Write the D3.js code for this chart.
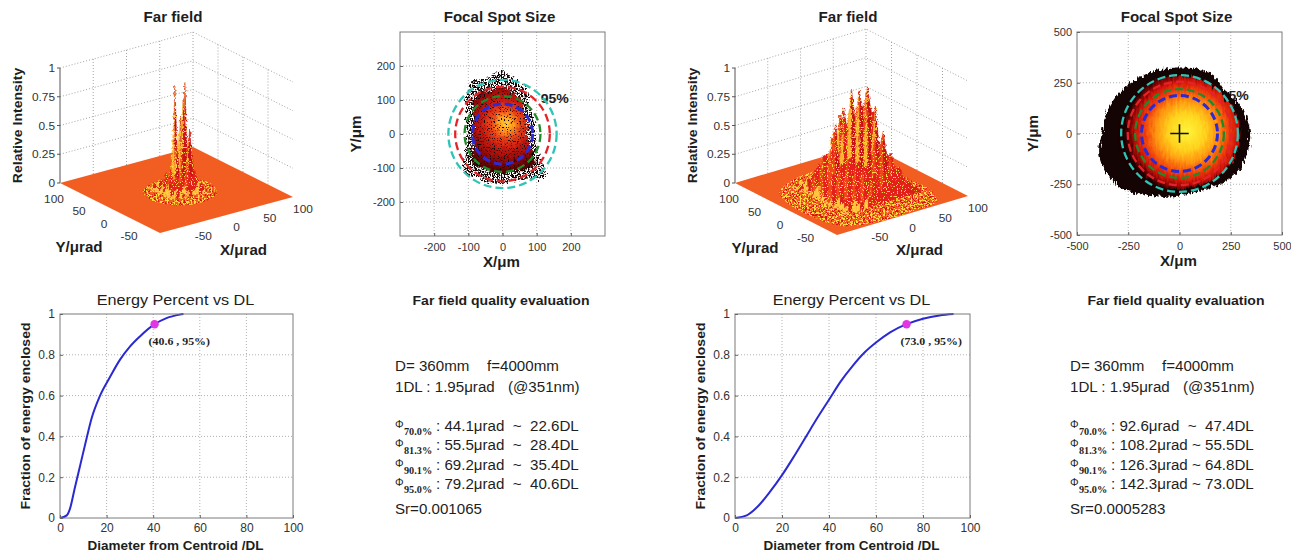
<!DOCTYPE html>
<html>
<head>
<meta charset="utf-8">
<script src="https://cdn.jsdelivr.net/npm/d3@7"></script>
<style>
  body { margin: 0; background: #fff; }
  svg { display: block; }
</style>
</head>
<body>
<svg id="fig" width="1291" height="555"></svg>
<script>
// ---------------- data ----------------
const zTicks = [0, 0.25, 0.5, 0.75, 1];
const xyTicks3d = [-50, 0, 50, 100];

// far field #1 : relative intensity on a grid (rows from back, Y high, to front)
const ff1X = [-25, -20, -15, -10, -5, 0, 5, 10, 15, 20, 25, 30];
const ff1Y = [25, 20, 15, 10, 5, 0, -5, -10, -15, -20, -25];
const ff1Z = [
  [0.00, 0.02, 0.00, 0.03, 0.05, 0.02, 0.06, 0.03, 0.05, 0.02, 0.03, 0.00],
  [0.00, 0.04, 0.03, 0.06, 0.04, 0.09, 0.05, 0.12, 0.04, 0.07, 0.03, 0.00],
  [0.00, 0.02, 0.07, 0.05, 0.12, 0.08, 0.22, 0.10, 0.18, 0.06, 0.05, 0.00],
  [0.00, 0.05, 0.04, 0.10, 0.06, 0.15, 0.88, 0.12, 0.20, 0.88, 0.08, 0.00],
  [0.00, 0.03, 0.08, 0.06, 0.18, 0.09, 0.30, 0.62, 0.14, 0.35, 0.10, 0.00],
  [0.00, 0.06, 0.05, 0.14, 0.08, 0.40, 0.12, 0.78, 0.25, 0.50, 0.07, 0.00],
  [0.00, 0.04, 0.09, 0.05, 0.16, 0.10, 0.32, 0.08, 0.45, 0.12, 0.09, 0.00],
  [0.00, 0.03, 0.06, 0.12, 0.07, 0.20, 0.09, 0.24, 0.11, 0.16, 0.05, 0.00],
  [0.00, 0.05, 0.04, 0.07, 0.11, 0.06, 0.14, 0.07, 0.12, 0.06, 0.08, 0.00],
  [0.00, 0.03, 0.05, 0.03, 0.06, 0.09, 0.05, 0.10, 0.04, 0.07, 0.03, 0.00],
  [0.00, 0.02, 0.01, 0.04, 0.02, 0.05, 0.03, 0.04, 0.06, 0.02, 0.03, 0.00]
];
// low-level speckle area on the floor (µrad)
const ff1Grass = [[-45, -5], [-35, 20], [-10, 35], [20, 35], [42, 15], [45, -15], [30, -40], [0, -50], [-30, -40]];

// far field #2
const ff2X = [-54, -48, -42, -36, -30, -24, -18, -12, -6, 0, 6, 12, 18, 24, 30, 36, 42, 48, 54, 60, 66];
const ff2Y = [48, 40, 32, 24, 16, 8, 0, -8, -16, -24, -32, -40, -48, -56];
const ff2Z = [
  [0.00, 0.02, 0.01, 0.04, 0.02, 0.08, 0.06, 0.12, 0.06, 0.16, 0.11, 0.06, 0.15, 0.07, 0.12, 0.04, 0.06, 0.03, 0.04, 0.02, 0.00],
  [0.00, 0.03, 0.02, 0.07, 0.05, 0.11, 0.16, 0.09, 0.18, 0.27, 0.10, 0.25, 0.15, 0.23, 0.08, 0.13, 0.08, 0.08, 0.02, 0.03, 0.00],
  [0.00, 0.02, 0.07, 0.04, 0.13, 0.11, 0.25, 0.26, 0.14, 0.38, 0.28, 0.42, 0.16, 0.32, 0.22, 0.08, 0.18, 0.07, 0.08, 0.03, 0.00],
  [0.00, 0.06, 0.04, 0.13, 0.13, 0.27, 0.15, 0.42, 0.38, 0.23, 0.58, 0.34, 0.50, 0.18, 0.41, 0.22, 0.21, 0.07, 0.12, 0.05, 0.00],
  [0.00, 0.04, 0.11, 0.10, 0.26, 0.15, 0.38, 0.55, 0.32, 0.68, 0.49, 0.74, 0.29, 0.56, 0.30, 0.42, 0.13, 0.21, 0.10, 0.08, 0.00],
  [0.00, 0.08, 0.09, 0.21, 0.13, 0.38, 0.31, 0.65, 0.57, 0.35, 0.84, 0.58, 0.81, 0.36, 0.56, 0.29, 0.37, 0.13, 0.17, 0.08, 0.00],
  [0.00, 0.05, 0.15, 0.09, 0.27, 0.45, 0.29, 0.65, 0.55, 0.87, 0.43, 0.82, 0.66, 0.82, 0.39, 0.53, 0.17, 0.27, 0.12, 0.13, 0.00],
  [0.00, 0.09, 0.07, 0.21, 0.19, 0.19, 0.58, 0.47, 0.79, 0.45, 0.87, 0.55, 0.88, 0.66, 0.64, 0.27, 0.40, 0.17, 0.18, 0.06, 0.00],
  [0.00, 0.05, 0.13, 0.14, 0.30, 0.31, 0.22, 0.62, 0.44, 0.84, 0.58, 0.79, 0.34, 0.72, 0.36, 0.45, 0.25, 0.27, 0.09, 0.10, 0.00],
  [0.00, 0.07, 0.06, 0.16, 0.17, 0.35, 0.38, 0.23, 0.62, 0.47, 0.74, 0.37, 0.63, 0.36, 0.52, 0.17, 0.29, 0.13, 0.16, 0.07, 0.00],
  [0.00, 0.04, 0.08, 0.07, 0.20, 0.16, 0.32, 0.33, 0.21, 0.56, 0.34, 0.55, 0.36, 0.48, 0.17, 0.30, 0.17, 0.18, 0.06, 0.07, 0.00],
  [0.00, 0.04, 0.05, 0.10, 0.07, 0.18, 0.17, 0.31, 0.30, 0.20, 0.42, 0.28, 0.36, 0.17, 0.29, 0.18, 0.10, 0.12, 0.07, 0.04, 0.00],
  [0.00, 0.02, 0.04, 0.04, 0.09, 0.10, 0.17, 0.10, 0.22, 0.27, 0.16, 0.23, 0.26, 0.15, 0.18, 0.08, 0.12, 0.06, 0.05, 0.03, 0.00],
  [0.00, 0.02, 0.02, 0.04, 0.06, 0.05, 0.09, 0.10, 0.15, 0.11, 0.16, 0.17, 0.09, 0.13, 0.09, 0.10, 0.05, 0.04, 0.03, 0.02, 0.00]
];
const ff2Grass = [[-75, 45], [-40, 65], [10, 70], [50, 45], [70, 0], [75, -60], [60, -90], [20, -97], [-40, -97], [-80, -80], [-90, -30], [-88, 10]];

// focal spot outlines: radius (µm) every 15 degrees, counter-clockwise from +X
const spot1Ticks = [-200, -100, 0, 100, 200];
const spot1Outer = [95, 98, 100, 110, 147, 160, 185, 170, 180, 152, 124, 110, 105, 111, 128, 160, 147, 147, 148, 143, 154, 178, 121, 100];
const spot1Inner = [72, 76, 80, 88, 112, 122, 140, 132, 138, 118, 96, 86, 84, 88, 100, 122, 115, 116, 118, 112, 118, 132, 94, 78];
const spot2Ticks = [-500, -250, 0, 250, 500];
const spot2Outer = [345, 335, 318, 308, 332, 328, 325, 328, 336, 345, 360, 370, 378, 405, 404, 385, 350, 322, 305, 300, 308, 325, 345, 345];
const spot2Inner = [292, 290, 286, 282, 288, 286, 284, 286, 290, 292, 296, 298, 300, 305, 302, 296, 288, 280, 274, 272, 276, 282, 288, 292];

// evaluation numbers
const apertureD = 360;     // mm
const focalLength = 4000;  // mm
const dlUrad = 1.95;
const wavelength = 351;    // nm
const levels = ["70.0%", "81.3%", "90.1%", "95.0%"];
const phi1 = [44.1, 55.5, 69.2, 79.2];
const phiDL1 = [22.6, 28.4, 35.4, 40.6];
const strehl1 = "0.001065";
const phi2 = [92.6, 108.2, 126.3, 142.3];
const phiDL2 = [47.4, 55.5, 64.8, 73.0];
const strehl2 = "0.0005283";
const ringColors = ["#2b2bd6", "#1f8a2a", "#e3232a", "#2ec4b6"];

// encircled energy curves
const dl1 = [0, 2.9, 4.3, 6.4, 8.6, 11.4, 13.6, 17, 21.4, 25.7, 30, 34.3, 40.6, 45.7, 51.4, 53];
const frac1 = [0, 0.013, 0.046, 0.15, 0.255, 0.39, 0.49, 0.595, 0.69, 0.775, 0.84, 0.89, 0.95, 0.98, 0.997, 1];
const dl2 = [0, 5, 10, 15, 20, 25, 30, 35, 40, 45, 50, 55, 60, 66, 73, 80, 87, 93];
const frac2 = [0, 0.013, 0.06, 0.13, 0.21, 0.30, 0.395, 0.49, 0.58, 0.67, 0.745, 0.81, 0.86, 0.91, 0.95, 0.977, 0.993, 1];
const energyTicksX = [0, 20, 40, 60, 80, 100];
const energyTicksY = [0, 0.2, 0.4, 0.6, 0.8, 1];

// ---------------- setup ----------------
const SANS = '"Liberation Sans", Arial, Helvetica, sans-serif';
const SERIF = '"Liberation Serif", "Times New Roman", serif';
const SX = 1.08;   // the source picture is a bit stretched sideways
const FLOOR = "#f25e22";

const svg = d3.select("#fig");
svg.append("rect").attr("width", 1291).attr("height", 555).attr("fill", "#fff");
const defs = svg.append("defs");

function txt(g, x, y, s, o = {}) {
  return g.append("text")
    .attr("transform", `translate(${x},${y})` + (o.rot ? ` rotate(${o.rot})` : "") + ` scale(${SX},1)`)
    .attr("text-anchor", o.anchor || "middle")
    .attr("font-size", o.size || 11)
    .attr("font-weight", o.bold ? "bold" : "normal")
    .attr("font-family", o.serif ? SERIF : SANS)
    .attr("fill", o.fill || "#1e1e1e")
    .attr("xml:space", "preserve")
    .style("white-space", "pre")
    .text(s);
}

// ---- texture filters ----
function filt(id) {
  return defs.append("filter").attr("id", id).attr("color-interpolation-filters", "sRGB")
    .attr("x", "-20%").attr("y", "-20%").attr("width", "140%").attr("height", "140%");
}
function noise(f, freq, oct, seed, res) {
  f.append("feTurbulence").attr("type", "fractalNoise").attr("baseFrequency", freq)
    .attr("numOctaves", oct).attr("seed", seed).attr("result", res);
}
// keep a colour where one noise channel passes a threshold
function grain(f, src, rgb, ch, gain, cut, res) {
  const a = [0, 0, 0, 0]; a[ch] = gain;
  f.append("feColorMatrix").attr("in", src).attr("type", "matrix")
    .attr("values", `0 0 0 0 ${rgb[0]}  0 0 0 0 ${rgb[1]}  0 0 0 0 ${rgb[2]}  ${a.join(" ")} ${-gain * cut}`)
    .attr("result", res);
}
function displace(f, src, n, scale, res) {
  f.append("feDisplacementMap").attr("in", src).attr("in2", n).attr("scale", scale)
    .attr("xChannelSelector", "R").attr("yChannelSelector", "G").attr("result", res);
}

// floor speckle: yellow and red grains clipped to the shape
{
  const f = filt("grassFx");
  noise(f, "0.55", 2, 8, "n");
  grain(f, "n", [1, 0.86, 0.24], 0, 22, 0.53, "y");
  grain(f, "n", [0.83, 0.08, 0.08], 1, 22, 0.535, "r");
  const m = f.append("feMerge").attr("result", "sp");
  m.append("feMergeNode").attr("in", "r");
  m.append("feMergeNode").attr("in", "y");
  f.append("feComposite").attr("in", "sp").attr("in2", "SourceAlpha").attr("operator", "in");
}
// rough surface with yellow grains on top
{
  const f = filt("surfFx");
  noise(f, "0.4", 2, 3, "n");
  displace(f, "SourceGraphic", "n", 4, "d");
  noise(f, "0.8", 1, 12, "n2");
  grain(f, "n2", [1, 0.84, 0.25], 0, 20, 0.59, "y");
  f.append("feComposite").attr("in", "y").attr("in2", "d").attr("operator", "in").attr("result", "yc");
  const m = f.append("feMerge");
  m.append("feMergeNode").attr("in", "d");
  m.append("feMergeNode").attr("in", "yc");
}
// ragged edge, optionally with grainy holes
function roughFilter(id, freq, scale, seed, holeCut) {
  const f = filt(id);
  noise(f, freq, 2, seed, "n");
  displace(f, "SourceGraphic", "n", scale, "d");
  if (holeCut) {
    noise(f, "0.7", 1, seed + 5, "n2");
    grain(f, "n2", [0, 0, 0], 3, -12, holeCut, "m");
    f.append("feComposite").attr("in", "d").attr("in2", "m").attr("operator", "in");
  }
}
roughFilter("roughA", "0.3", 10, 4);
roughFilter("ringA", "0.3", 10, 4, 0.55);
roughFilter("dotsA", "0.3", 8, 11, 0.40);
roughFilter("roughB", "0.45 0.12", 8, 7);

function shade(z0, z1) {
  const d = z1 - z0, top = Math.max(z0, z1);
  if (top < 0.1) return d > 0 ? "#ffc640" : "#d8201a";
  if (d > 0.25) return "#ffb02e";
  if (d > 0.06) return "#f0481c";
  if (d < -0.15) return "#c8121a";
  return "#e3201c";
}

// ---------------- 3D far field ----------------
function farField(P, gx, gy, gz, grass, title) {
  const g = svg.append("g");
  const su = d3.scaleLinear().domain([-100, 100]).range([0, 1]);
  const sz = d3.scaleLinear().domain([0, 1]).range([0, P.H]);
  const pt = (x, y, z = 0) => {
    const u = su(x), v = su(y);
    return [P.F[0] + u * P.R[0] + v * P.L[0], P.F[1] + u * P.R[1] + v * P.L[1] - sz(z)];
  };
  const line = d3.line();

  const grid = g.append("g").attr("fill", "none").attr("stroke", "#9a9a9a")
    .attr("stroke-width", 0.9).attr("stroke-dasharray", "1,2");
  zTicks.slice(1).forEach(z => grid.append("path").attr("d", line([pt(-100, 100, z), pt(100, 100, z), pt(100, -100, z)])));
  xyTicks3d.forEach(x => grid.append("path").attr("d", line([pt(x, 100, 0), pt(x, 100, 1)])));
  xyTicks3d.filter(y => y < 100).forEach(y => grid.append("path").attr("d", line([pt(100, y, 0), pt(100, y, 1)])));

  g.append("path").attr("d", line([pt(-100, -100), pt(100, -100), pt(100, 100), pt(-100, 100)]) + "Z")
    .attr("fill", FLOOR);
  g.append("path").attr("d", d3.line().curve(d3.curveCatmullRomClosed)(grass.map(d => pt(d[0], d[1]))))
    .attr("fill", "#000").attr("filter", "url(#grassFx)");

  const surf = g.append("g").attr("filter", "url(#surfFx)");
  gy.forEach((y, j) => {
    const row = gz[j];
    for (let i = 0; i < gx.length - 1; i++) {
      const c = shade(row[i], row[i + 1]);
      surf.append("path")
        .attr("d", line([pt(gx[i], y, 0), pt(gx[i + 1], y, 0), pt(gx[i + 1], y, row[i + 1]), pt(gx[i], y, row[i])]) + "Z")
        .attr("fill", c).attr("stroke", c).attr("stroke-width", 0.4);
    }
  });

  const a0 = pt(-100, 100, 0), a1 = pt(-100, 100, 1);
  g.append("line").attr("x1", a0[0]).attr("y1", a0[1]).attr("x2", a1[0]).attr("y2", a1[1]).attr("stroke", "#555");
  zTicks.forEach(z => {
    const p = pt(-100, 100, z);
    g.append("line").attr("x1", p[0] - 3).attr("x2", p[0]).attr("y1", p[1]).attr("y2", p[1]).attr("stroke", "#555");
    txt(g, p[0] - 5, p[1] + 4, String(z), { anchor: "end", fill: "#333" });
  });
  xyTicks3d.forEach(x => { const p = pt(x, -100); txt(g, p[0] + 10, p[1] + 16, String(x), { fill: "#333" }); });
  xyTicks3d.forEach(y => { const p = pt(-100, y); txt(g, p[0] - 6, p[1] + 19.5, String(y), { fill: "#333" }); });
  const px = pt(0, -100), py = pt(-100, 0);
  txt(g, px[0] + 17, px[1] + 39.5, "X/μrad", { size: 14, bold: true });
  txt(g, py[0] - 31, py[1] + 43.5, "Y/μrad", { size: 14, bold: true });
  txt(g, a0[0] - 38.5, (a0[1] + a1[1]) / 2, "Relative Intensity", { size: 13, bold: true, rot: -90 });
  txt(g, a0[0] + 113, 22, title, { size: 14, bold: true });
}

// ---------------- 2D helpers ----------------
function axes2d(g, xs, ys, B, xt, yt, size, pad) {
  const ax = g.append("g").attr("transform", `translate(0,${B.y1})`)
    .call(d3.axisBottom(xs).tickValues(xt).tickSize(-3).tickPadding(pad).tickFormat(d => String(d)));
  const ay = g.append("g").attr("transform", `translate(${B.x0},0)`)
    .call(d3.axisLeft(ys).tickValues(yt).tickSize(-3).tickPadding(5).tickFormat(d => String(d)));
  [ax, ay].forEach(a => {
    a.select(".domain").remove();
    a.attr("font-family", SANS);
    a.selectAll("line").attr("stroke", "#666");
    a.selectAll("text").attr("font-size", size).attr("fill", "#333");
  });
}
function gridLines(g, xs, ys, B, xt, yt) {
  const gg = g.append("g").attr("stroke", "#a8a8a8").attr("stroke-width", 0.9).attr("stroke-dasharray", "1,2");
  xt.filter(t => xs(t) > B.x0 + 1 && xs(t) < B.x1 - 1)
    .forEach(t => gg.append("line").attr("x1", xs(t)).attr("x2", xs(t)).attr("y1", B.y0).attr("y2", B.y1));
  yt.filter(t => ys(t) < B.y1 - 1 && ys(t) > B.y0 + 1)
    .forEach(t => gg.append("line").attr("y1", ys(t)).attr("y2", ys(t)).attr("x1", B.x0).attr("x2", B.x1));
}
function frame(g, B) {
  g.append("rect").attr("x", B.x0).attr("y", B.y0).attr("width", B.x1 - B.x0).attr("height", B.y1 - B.y0)
    .attr("fill", "none").attr("stroke", "#7a7a7a");
}

// ---------------- focal spot ----------------
function focalSpot(B, dom, ticks, outer, inner, grad, hot, fx, phi, cross) {
  const g = svg.append("g");
  const xs = d3.scaleLinear().domain([-dom, dom]).range([B.x0, B.x1]);
  const ys = d3.scaleLinear().domain([-dom, dom]).range([B.y1, B.y0]);
  const um = r => xs(r) - xs(0);
  const rr = phi.map(p => p * focalLength / 2000);   // ring radius in µm

  gridLines(g, xs, ys, B, ticks, ticks);

  const gid = "grad" + B.x0;
  const rg = defs.append("radialGradient").attr("id", gid).attr("gradientUnits", "userSpaceOnUse")
    .attr("cx", xs(hot[0])).attr("cy", ys(hot[1])).attr("r", um(hot[2]));
  grad.forEach(s => rg.append("stop").attr("offset", s[0]).attr("stop-color", s[1]));

  const r95 = rr[rr.length - 1];
  txt(g, xs(r95 * Math.SQRT1_2), ys(r95 * Math.SQRT1_2) + 7, "95%", { anchor: "start", size: 13, bold: true });

  const radial = radii => radii.map((r, i) => {
    const a = i / radii.length * 2 * Math.PI;
    return [xs(r * Math.cos(a)), ys(r * Math.sin(a))];
  });
  const closed = d3.line().curve(d3.curveCatmullRomClosed);
  g.append("path").attr("d", closed(radial(outer))).attr("fill", "#140504").attr("filter", `url(#${fx.ring})`);
  g.append("path").attr("d", closed(radial(inner))).attr("fill", `url(#${gid})`).attr("filter", `url(#${fx.core})`);
  if (fx.dots) {
    g.append("path").attr("d", closed(radial(inner))).attr("fill", "#1a0404").attr("filter", `url(#${fx.dots})`);
  }

  rr.forEach((r, i) => g.append("circle").attr("cx", xs(0)).attr("cy", ys(0)).attr("r", um(r))
    .attr("fill", "none").attr("stroke", ringColors[i]).attr("stroke-width", i === 0 ? 3 : 2.3)
    .attr("stroke-dasharray", "8,4"));

  if (cross) {
    g.append("path").attr("d", `M${xs(-45)},${ys(0)}H${xs(45)}M${xs(0)},${ys(-45)}V${ys(45)}`)
      .attr("stroke", "#111").attr("stroke-width", 1.6);
  }
  frame(g, B);
  axes2d(g, xs, ys, B, ticks, ticks, 11, 7);

  const cx = (B.x0 + B.x1) / 2, cy = (B.y0 + B.y1) / 2;
  txt(g, cx - 3, 22, "Focal Spot Size", { size: 14, bold: true });
  txt(g, cx - 1, B.y1 + 30.5, "X/μm", { size: 14, bold: true });
  txt(g, B.x0 - 39, cy, "Y/μm", { size: 14, bold: true, rot: -90 });
}

// ---------------- encircled energy ----------------
function energy(B, dl, frac, dl95, tag) {
  const g = svg.append("g");
  const xs = d3.scaleLinear().domain([0, 100]).range([B.x0, B.x1]);
  const ys = d3.scaleLinear().domain([0, 1]).range([B.y1, B.y0]);
  gridLines(g, xs, ys, B, energyTicksX, energyTicksY);

  g.append("path").datum(dl.map((d, i) => [d, frac[i]]))
    .attr("d", d3.line().x(d => xs(d[0])).y(d => ys(d[1])).curve(d3.curveMonotoneX))
    .attr("fill", "none").attr("stroke", "#2a2ad0").attr("stroke-width", 2);
  g.append("circle").attr("cx", xs(dl95)).attr("cy", ys(0.95)).attr("r", 4.2).attr("fill", "#e236e2");
  txt(g, xs(dl95) - 6, ys(0.95) + 21, tag, { anchor: "start", size: 11, bold: true, serif: true });

  frame(g, B);
  axes2d(g, xs, ys, B, energyTicksX, energyTicksY, 12, 5.5);
  const cx = (B.x0 + B.x1) / 2, cy = (B.y0 + B.y1) / 2;
  txt(g, cx - 1, 305, "Energy Percent vs DL", { size: 15 });
  txt(g, cx - 1, 549.5, "Diameter from Centroid /DL", { size: 12.5, bold: true });
  txt(g, B.x0 - 30, cy, "Fraction of energy enclosed", { size: 13, bold: true, rot: -90 });
}

// ---------------- text panel ----------------
function evaluation(x0, phi, phiDL, sr) {
  const g = svg.append("g");
  txt(g, x0 + 106, 305, "Far field quality evaluation", { size: 13, bold: true });
  txt(g, x0, 371, `D= ${apertureD}mm`, { anchor: "start", size: 14 });
  txt(g, x0 + 92, 371, `f=${focalLength}mm`, { anchor: "start", size: 14 });
  txt(g, x0, 392, `1DL : ${dlUrad}μrad`, { anchor: "start", size: 14 });
  txt(g, x0 + 113, 392, `(@${wavelength}nm)`, { anchor: "start", size: 14 });
  levels.forEach((lv, i) => {
    const y = 430.5 + i * 19.6;
    txt(g, x0, y - 3, "Φ", { anchor: "start", size: 10 });
    txt(g, x0 + 9, y + 4, lv, { anchor: "start", size: 9.5, bold: true, serif: true });
    const sep = phi[i] >= 100 ? " ~ " : "  ~  ";
    txt(g, x0 + 41, y, `: ${phi[i]}μrad${sep}${phiDL[i].toFixed(1)}DL`, { anchor: "start", size: 14 });
  });
  txt(g, x0, 514, `Sr=${sr}`, { anchor: "start", size: 14 });
}

// ---------------- draw ----------------
farField({ F: [160, 233], R: [133, -36], L: [-100, -50], H: 115 }, ff1X, ff1Y, ff1Z, ff1Grass, "Far field");
farField({ F: [837, 235], R: [131, -39], L: [-102, -52], H: 115 }, ff2X, ff2Y, ff2Z, ff2Grass, "Far field");

focalSpot({ x0: 400, x1: 605, y0: 32, y1: 236 }, 300, spot1Ticks, spot1Outer, spot1Inner,
  [[0, "#ffd23a"], [0.12, "#ff9a1e"], [0.25, "#e8461a"], [0.42, "#c81a10"], [0.65, "#8a0808"], [0.85, "#4a0303"], [1, "#200101"]],
  [10, 30, 170], { ring: "ringA", core: "roughA", dots: "dotsA" }, phi1, false);
focalSpot({ x0: 1077, x1: 1282, y0: 32, y1: 235 }, 500, spot2Ticks, spot2Outer, spot2Inner,
  [[0, "#fff53a"], [0.3, "#ffd21d"], [0.5, "#ff9410"], [0.68, "#f0420c"], [0.82, "#d0140a"], [0.92, "#7a0404"], [1, "#1a0000"]],
  [35, 10, 300], { ring: "roughB", core: "roughB" }, phi2, true);

energy({ x0: 60, x1: 293, y0: 314, y1: 518 }, dl1, frac1, phiDL1[3], `(${phiDL1[3].toFixed(1)} , 95%)`);
energy({ x0: 735, x1: 970, y0: 314, y1: 518 }, dl2, frac2, phiDL2[3], `(${phiDL2[3].toFixed(1)} , 95%)`);

evaluation(395, phi1, phiDL1, strehl1);
evaluation(1070, phi2, phiDL2, strehl2);
</script>
</body>
</html>
